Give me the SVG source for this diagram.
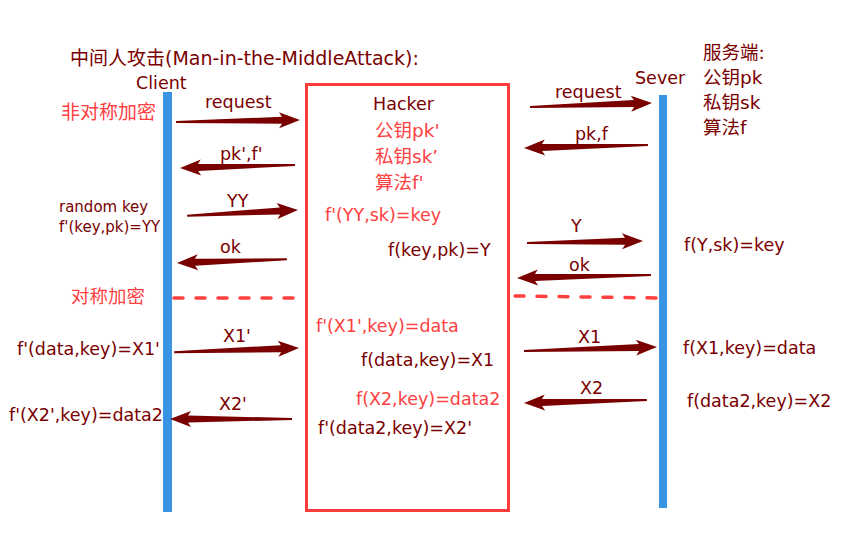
<svg xmlns="http://www.w3.org/2000/svg" width="842" height="552" viewBox="0 0 842 552">
<style>
text{font-family:"DejaVu Sans","Noto Sans CJK SC",sans-serif;font-size:17.5px}
.d{fill:#7a0000}
.r{fill:#ff4040}
.s{font-size:15px}
.c{font-size:18.5px}
.arr{fill:#7a0000}
.life{fill:#3a94e4}
.dash{stroke:#ff4040;stroke-width:3.5;stroke-linecap:round;stroke-dasharray:9 13;fill:none}
</style>
<rect width="842" height="552" fill="#fff"/>
<text class="d" x="70" y="65" style="font-size:19px">中间人攻击(Man-in-the-MiddleAttack):</text>
<g id="client">
<text class="d" x="136" y="89">Client</text>
<rect class="life" x="163" y="92" width="9" height="420"/>
</g>
<g id="server">
<text class="d" x="635" y="84">Sever</text>
<rect class="life" x="659" y="95" width="8" height="413"/>
<text class="d c" x="703" y="59">服务端:</text>
<text class="d c" x="703" y="84">公钥pk</text>
<text class="d c" x="703" y="109">私钥sk</text>
<text class="d c" x="703" y="134">算法f</text>
</g>
<g id="hacker">
<rect x="306.5" y="84.5" width="202" height="426" fill="none" stroke="#ff3b3b" stroke-width="3"/>
<text class="d" x="373" y="110">Hacker</text>
<text class="r c" x="375" y="137">公钥pk'</text>
<text class="r c" x="375" y="163">私钥sk’</text>
<text class="r c" x="375" y="189">算法f'</text>
<text class="r" x="325" y="221">f'(YY,sk)=key</text>
<text class="d" x="388" y="256">f(key,pk)=Y</text>
<text class="r" x="316" y="332">f'(X1',key)=data</text>
<text class="d" x="361" y="366">f(data,key)=X1</text>
<text class="r" x="356" y="405">f(X2,key)=data2</text>
<text class="d" x="318" y="434">f'(data2,key)=X2'</text>
</g>
<g id="client-notes">
<text class="r" x="61" y="119" style="font-size:19px">非对称加密</text>
<text class="d s" x="59" y="212">random key</text>
<text class="d s" x="59" y="232">f'(key,pk)=YY</text>
<text class="r" x="71" y="303" style="font-size:18.5px">对称加密</text>
<text class="d" x="17" y="355">f'(data,key)=X1'</text>
<text class="d" x="9" y="421">f'(X2',key)=data2</text>
</g>
<g id="server-notes">
<text class="d" x="684" y="251">f(Y,sk)=key</text>
<text class="d" x="683" y="354">f(X1,key)=data</text>
<text class="d" x="687" y="407">f(data2,key)=X2</text>
</g>
<g id="connectors">
<path class="arr" transform="translate(300,120) rotate(-0.9)" d="M-124,-1 L-18,-3.5 L-21,-8 L0,0 L-21,8 L-18,3.5 L-124,1 Z"/>
<text class="d" x="205" y="108">request</text>
<path class="arr" transform="translate(180,168) rotate(178.5)" d="M-115,-1 L-18,-3.5 L-21,-8 L0,0 L-21,8 L-18,3.5 L-115,1 Z"/>
<text class="d" x="220" y="160">pk',f'</text>
<path class="arr" transform="translate(298,210) rotate(-3)" d="M-111,-1 L-18,-3.5 L-21,-8 L0,0 L-21,8 L-18,3.5 L-111,1 Z"/>
<text class="d" x="227" y="207">YY</text>
<path class="arr" transform="translate(177,263) rotate(178)" d="M-110,-1 L-18,-3.5 L-21,-8 L0,0 L-21,8 L-18,3.5 L-110,1 Z"/>
<text class="d" x="220" y="253">ok</text>
<path class="arr" transform="translate(299,348) rotate(-2)" d="M-125,-1 L-18,-3.5 L-21,-8 L0,0 L-21,8 L-18,3.5 L-125,1 Z"/>
<text class="d" x="223" y="342">X1'</text>
<path class="arr" transform="translate(170,419) rotate(180)" d="M-122,-1 L-18,-3.5 L-21,-8 L0,0 L-21,8 L-18,3.5 L-122,1 Z"/>
<text class="d" x="219" y="410">X2'</text>
<path class="arr" transform="translate(652,103) rotate(-1.9)" d="M-122,-1 L-18,-3.5 L-21,-8 L0,0 L-21,8 L-18,3.5 L-122,1 Z"/>
<text class="d" x="555" y="98">request</text>
<path class="arr" transform="translate(524,148) rotate(178.6)" d="M-124,-1 L-18,-3.5 L-21,-8 L0,0 L-21,8 L-18,3.5 L-124,1 Z"/>
<text class="d" x="575" y="140">pk,f</text>
<path class="arr" transform="translate(643,241) rotate(-1)" d="M-116,-1 L-18,-3.5 L-21,-8 L0,0 L-21,8 L-18,3.5 L-116,1 Z"/>
<text class="d" x="571" y="232">Y</text>
<path class="arr" transform="translate(517,278) rotate(178.7)" d="M-134,-1 L-18,-3.5 L-21,-8 L0,0 L-21,8 L-18,3.5 L-134,1 Z"/>
<text class="d" x="569" y="271">ok</text>
<path class="arr" transform="translate(657,347) rotate(-1.7)" d="M-133,-1 L-18,-3.5 L-21,-8 L0,0 L-21,8 L-18,3.5 L-133,1 Z"/>
<text class="d" x="578" y="343">X1</text>
<path class="arr" transform="translate(524,403) rotate(178.6)" d="M-123,-1 L-18,-3.5 L-21,-8 L0,0 L-21,8 L-18,3.5 L-123,1 Z"/>
<text class="d" x="580" y="394">X2</text>
<path class="dash" d="M174,298 L296,298"/>
<path class="dash" d="M515,296 L661,298"/>
</g>
</svg>
